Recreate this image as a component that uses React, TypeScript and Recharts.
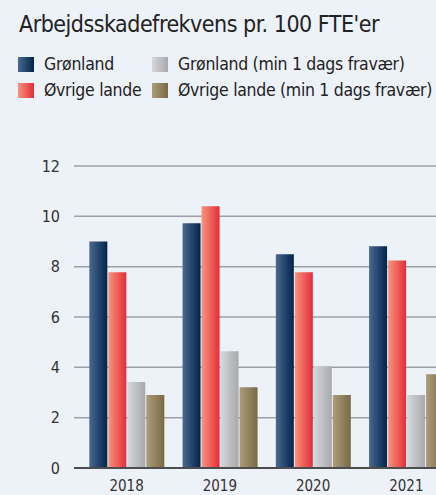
import React from 'react'
import { BarChart, Bar, XAxis, YAxis, CartesianGrid } from 'recharts'

const years = ['2018', '2019', '2020', '2021']
const gronland = [9.0, 9.73, 8.49, 8.81]
const ovrige = [7.78, 10.4, 7.78, 8.25]
const gronlandFravaer = [3.42, 4.64, 4.03, 2.9]
const ovrigeFravaer = [2.9, 3.21, 2.9, 3.73]
const yTicks = [0, 2, 4, 6, 8, 10, 12]

const FONT = '"Liberation Sans Narrow", "DejaVu Sans Condensed", "Roboto Condensed", sans-serif'

const series = [
  { key: 'gronland', name: 'Grønland', from: '#4b6891', to: '#00254a' },
  { key: 'ovrige', name: 'Øvrige lande', from: '#f5957f', to: '#e62c37' },
  { key: 'gronlandFravaer', name: 'Grønland (min 1 dags fravær)', from: '#d6d7da', to: '#a8a9ac' },
  { key: 'ovrigeFravaer', name: 'Øvrige lande (min 1 dags fravær)', from: '#ab9d7b', to: '#796a44' },
]

const data = years.map((year, i) => ({
  year,
  gronland: gronland[i],
  ovrige: ovrige[i],
  gronlandFravaer: gronlandFravaer[i],
  ovrigeFravaer: ovrigeFravaer[i],
}))

function LegendItem({ s, left, top }: { s: (typeof series)[number]; left: number; top: number }) {
  return (
    <div style={{ position: 'absolute', left, top, display: 'flex', alignItems: 'center' }}>
      <span
        style={{
          display: 'inline-block',
          width: 16,
          height: 15,
          background: `linear-gradient(to right, ${s.from}, ${s.to})`,
          marginRight: 10,
        }}
      />
      <span style={{ fontSize: 17.5, letterSpacing: -0.3, color: '#222', whiteSpace: 'nowrap' }}>{s.name}</span>
    </div>
  )
}

export default function App() {
  return (
    <div
      style={{
        position: 'fixed',
        left: 0,
        top: 0,
        width: 436,
        height: 495,
        overflow: 'hidden',
        background: '#edf1f8',
        fontFamily: FONT,
      }}
    >
      <div
        style={{
          position: 'absolute',
          left: 19,
          top: 11,
          fontSize: 23,
          letterSpacing: -0.5,
          color: '#222',
          whiteSpace: 'nowrap',
        }}
      >
        Arbejdsskadefrekvens pr. 100 FTE'er
      </div>
      <LegendItem s={series[0]} left={18} top={54} />
      <LegendItem s={series[2]} left={152} top={54} />
      <LegendItem s={series[1]} left={18} top={80} />
      <LegendItem s={series[3]} left={152} top={80} />

      <div style={{ position: 'absolute', left: 0, top: 150 }}>
        <BarChart
          width={480}
          height={345}
          data={data}
          margin={{ top: 16, right: 27, left: 0, bottom: 0 }}
          barCategoryGap="10%"
          barGap={1}
        >
          <defs>
            {series.map((s) => (
              <linearGradient key={s.key} id={`grad-${s.key}`} x1="0" y1="0" x2="1" y2="0">
                <stop offset="0%" stopColor={s.from} />
                <stop offset="100%" stopColor={s.to} />
              </linearGradient>
            ))}
          </defs>
          <CartesianGrid vertical={false} stroke="#9da1a7" strokeWidth={1.5} />
          <XAxis
            dataKey="year"
            height={27}
            padding={{ left: 6, right: 0 }}
            tickSize={0}
            tickMargin={12}
            axisLine={{ stroke: '#4d4d4d', strokeWidth: 2 }}
            tick={{ fill: '#333', fontSize: 15, fontFamily: FONT }}
          />
          <YAxis
            width={74}
            domain={[0, 12]}
            ticks={yTicks}
            axisLine={false}
            tickSize={0}
            tickMargin={14}
            tick={{ fill: '#333', fontSize: 16, fontFamily: FONT }}
          />
          {series.map((s) => (
            <Bar key={s.key} dataKey={s.key} name={s.name} fill={`url(#grad-${s.key})`} isAnimationActive={false} />
          ))}
        </BarChart>
      </div>
    </div>
  )
}
